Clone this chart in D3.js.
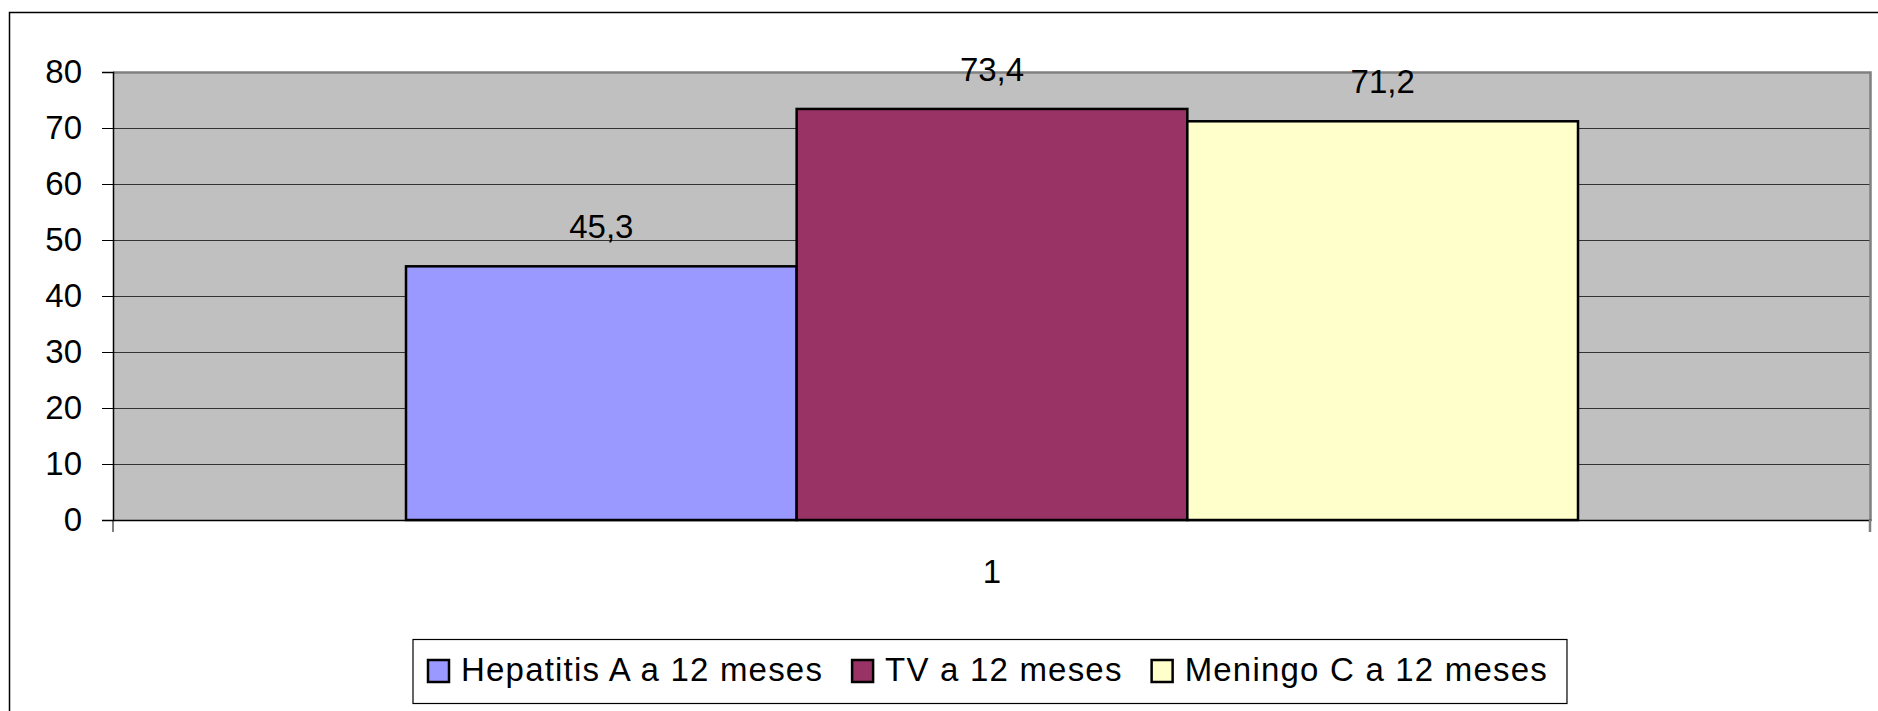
<!DOCTYPE html>
<html>
<head>
<meta charset="utf-8">
<script src="https://cdn.jsdelivr.net/npm/d3@7/dist/d3.min.js"></script>
<style>
  html, body { margin: 0; padding: 0; background: #fff; }
  svg { display: block; }
  text { font-family: "Liberation Sans", Arial, sans-serif; fill: #000; }
</style>
</head>
<body>
<svg id="chart" width="1878" height="711"></svg>
<script>
// Vaccination coverage at 12 months (%)
const categories = ["1"];
const seriesNames = ["Hepatitis A a 12 meses", "TV a 12 meses", "Meningo C a 12 meses"];
const seriesValues = [45.3, 73.4, 71.2];
const seriesColors = ["#9999FF", "#993366", "#FFFFCC"];
const yTicks = [0, 10, 20, 30, 40, 50, 60, 70, 80];

const W = 1878, H = 711;
const plot = { left: 113, right: 1871, top: 72, bottom: 520 };

const svg = d3.select("#chart");

// chart frame (runs off the right and bottom edges)
svg.append("rect")
  .attr("x", 9.5).attr("y", 12.5)
  .attr("width", W + 20).attr("height", H + 20)
  .attr("fill", "#fff").attr("stroke", "#000").attr("stroke-width", 1.5);

const x = d3.scaleBand().domain(categories).range([plot.left, plot.right]);
// gap width of 150% of a bar between groups
const groupFrac = seriesNames.length / (seriesNames.length + 1.5);
const xs = d3.scaleBand()
  .domain(seriesNames)
  .range([x.bandwidth() * (1 - groupFrac) / 2, x.bandwidth() * (1 + groupFrac) / 2]);
const y = d3.scaleLinear().domain([0, 80]).range([plot.bottom, plot.top]);

const fmt = d3.formatLocale({ decimal: ",", thousands: ".", grouping: [3], currency: ["", ""] }).format(".1f");

// plot background
svg.append("rect")
  .attr("x", plot.left).attr("y", plot.top)
  .attr("width", plot.right - plot.left).attr("height", plot.bottom - plot.top)
  .attr("fill", "#C0C0C0");

// horizontal gridlines
svg.append("g").selectAll("line")
  .data(yTicks.filter(t => t > 0 && t < 80))
  .join("line")
  .attr("x1", plot.left).attr("x2", plot.right)
  .attr("y1", d => Math.round(y(d)) + 0.5).attr("y2", d => Math.round(y(d)) + 0.5)
  .attr("stroke", "#333").attr("stroke-width", 1);

// plot border, top and right
svg.append("path")
  .attr("d", `M${plot.left},${plot.top + 0.5}H${plot.right - 0.5}V${plot.bottom}`)
  .attr("fill", "none").attr("stroke", "#808080").attr("stroke-width", 2.5);

// bars
const series = seriesNames.map((name, i) => ({ name, value: seriesValues[i], color: seriesColors[i] }));
const groups = svg.append("g").selectAll("g")
  .data(categories)
  .join("g")
  .attr("transform", d => `translate(${x(d)},0)`);

groups.selectAll("rect")
  .data(series)
  .join("rect")
  .attr("x", d => xs(d.name))
  .attr("y", d => y(d.value))
  .attr("width", xs.bandwidth())
  .attr("height", d => y(0) - y(d.value))
  .attr("fill", d => d.color)
  .attr("stroke", "#000").attr("stroke-width", 2.5);

// value labels
groups.selectAll("text.val")
  .data(series)
  .join("text")
  .attr("class", "val")
  .attr("x", d => xs(d.name) + xs.bandwidth() / 2)
  .attr("y", d => y(d.value) - 28)
  .attr("text-anchor", "middle")
  .style("font-size", "33px")
  .text(d => fmt(d.value));

// y axis
const yAxis = svg.append("g")
  .attr("transform", `translate(${plot.left},0)`)
  .call(d3.axisLeft(y).tickValues(yTicks).tickSize(11).tickPadding(20).tickFormat(d3.format("d")));
yAxis.select(".domain").attr("stroke", "#000").attr("stroke-width", 1.5);
yAxis.selectAll(".tick line").attr("stroke", "#000");
yAxis.selectAll(".tick text")
  .style("font-size", "33px")
  .style("font-family", "'Liberation Sans', Arial, sans-serif")
  .attr("dy", "0.33em");

// x axis
const xAxis = svg.append("g")
  .attr("transform", `translate(0,${plot.bottom})`)
  .call(d3.axisBottom(x).tickSize(0).tickPadding(40));
xAxis.select(".domain").attr("stroke", "#000").attr("stroke-width", 1.5);
xAxis.selectAll(".tick text")
  .style("font-size", "33px")
  .style("font-family", "'Liberation Sans', Arial, sans-serif")
  .attr("dy", "0.71em");
// tick marks at category boundaries
xAxis.selectAll("line.bound")
  .data([plot.left, plot.right - 1])
  .join("line")
  .attr("class", "bound")
  .attr("x1", d => d).attr("x2", d => d)
  .attr("y1", 0).attr("y2", 12)
  .attr("stroke", d => d === plot.left ? "#000" : "#808080")
  .attr("stroke-width", d => d === plot.left ? 1 : 2.5);

// legend
const legend = svg.append("g");
const legendBox = legend.append("rect")
  .attr("fill", "#fff").attr("stroke", "#000").attr("stroke-width", 1.2);
const items = legend.selectAll("g.item")
  .data(series)
  .join("g")
  .attr("class", "item");
items.append("rect")
  .attr("width", 21).attr("height", 22)
  .attr("y", -21)
  .attr("fill", d => d.color)
  .attr("stroke", "#000").attr("stroke-width", 2.5);
items.append("text")
  .attr("x", 33)
  .attr("y", 0)
  .style("font-size", "33px")
  .style("letter-spacing", "1.2px")
  .text(d => d.name);

let cursor = 428, lastEnd = 0;
items.each(function () {
  const g = d3.select(this);
  g.attr("transform", `translate(${cursor},681)`);
  const w = g.select("text").node().getComputedTextLength();
  lastEnd = cursor + 33 + w;
  cursor = lastEnd + 29;
});
legendBox
  .attr("x", 413).attr("y", 639.5)
  .attr("width", lastEnd + 19 - 413).attr("height", 64);
</script>
</body>
</html>
